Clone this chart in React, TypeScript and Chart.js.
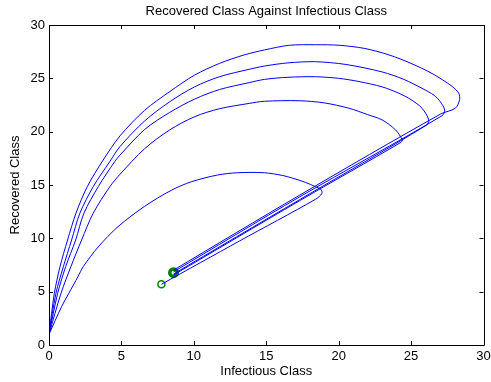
import React, { useEffect, useRef } from "react";
import { Chart, registerables } from "chart.js";

Chart.register(...registerables);

const titleText = "Recovered Class Against Infectious Class";
const xAxisLabel = "Infectious Class";
const yAxisLabel = "Recovered Class";
const tickValues = [0, 5, 10, 15, 20, 25, 30];

const curveAX = [0, 0.37, 0.76, 1.28, 1.86, 2.64, 3.74, 4.9, 6.6, 8.33, 10.05, 11.77, 13.49, 14.87, 16.6, 18.4, 20.03, 21.8, 23.47, 25.0, 26.45, 27.83, 28.29, 28.35, 28.06, 27.03, 17.27, 8.6];
const curveAY = [1.0, 4.85, 7.34, 9.84, 12.35, 14.84, 17.34, 19.6, 22.0, 23.75, 25.3, 26.4, 27.2, 27.66, 28.1, 28.15, 28.1, 27.8, 27.2, 26.4, 25.45, 24.25, 23.6, 23.0, 22.2, 21.65, 14.02, 7.02];

const curveBX = [0, 0.48, 0.99, 1.56, 2.13, 3.05, 4.2, 4.9, 6.6, 8.33, 10.05, 11.77, 13.83, 14.87, 16.5, 18.4, 20.5, 23.0, 24.5, 25.76, 26.6, 27.02, 27.32, 27.14, 17.27, 8.6];
const curveBY = [1.0, 4.85, 7.34, 9.84, 12.35, 14.84, 17.2, 18.6, 21.0, 22.8, 24.2, 25.15, 25.85, 26.15, 26.45, 26.56, 26.3, 25.6, 24.9, 24.06, 23.4, 22.8, 22.03, 21.5, 13.86, 6.86];

const curveCX = [0, 0.6, 1.15, 1.84, 2.41, 3.4, 4.54, 4.9, 6.6, 8.33, 10.05, 11.77, 13.83, 14.87, 16.5, 18.4, 20.0, 21.4, 23.0, 24.16, 25.0, 25.76, 26.22, 26.05, 17.27, 8.6];
const curveCY = [1.0, 4.85, 7.34, 9.84, 12.35, 14.84, 17.2, 17.8, 20.2, 21.8, 23.05, 23.95, 24.6, 24.9, 25.1, 25.15, 25.0, 24.7, 24.2, 23.6, 23.0, 22.19, 21.1, 20.6, 13.6, 6.66];

const curveDX = [0, 0.83, 1.51, 2.25, 3.05, 4.2, 4.9, 6.6, 8.33, 10.05, 11.77, 13.83, 14.87, 17.27, 19.0, 20.7, 22.0, 23.0, 23.93, 24.39, 24.3, 17.27, 8.6];
const curveDY = [1.0, 4.85, 7.34, 9.84, 12.35, 14.84, 16.0, 18.4, 20.16, 21.4, 22.15, 22.65, 22.85, 22.9, 22.7, 22.2, 21.6, 21.1, 20.16, 19.22, 19.0, 13.5, 6.56];

const curveEX = [0, 0.87, 1.37, 2.0, 2.36, 3.4, 4.77, 6.6, 8.44, 9.82, 11.65, 13.03, 14.87, 16.1, 16.8, 17.7, 18.4, 18.77, 18.84, 18.4, 13.15, 7.76];
const curveEY = [1.0, 3.6, 4.85, 6.4, 7.34, 9.2, 11.1, 13.0, 14.5, 15.3, 15.94, 16.15, 16.15, 15.9, 15.65, 15.25, 14.84, 14.6, 14.2, 13.66, 9.75, 5.69];

const openMarkerX = [7.76];
const openMarkerY = [5.69];
const endMarkerX = [8.6];
const endMarkerY = [6.78];

const FONT = '"Liberation Sans", Arial, Helvetica, sans-serif';

const toPoints = (xs: number[], ys: number[]) => xs.map((x, i) => ({ x, y: ys[i] }));

const framePlugin = {
  id: "matlabFrame",
  afterDraw(chart: any) {
    const { ctx, chartArea } = chart;
    const { left, right, top, bottom } = chartArea;
    const xs = chart.scales.x;
    const ys = chart.scales.y;
    ctx.save();
    ctx.strokeStyle = "#000";
    ctx.lineWidth = 1;
    ctx.beginPath();
    ctx.rect(Math.round(left) + 0.5, Math.round(top) + 0.5, Math.round(right - left), Math.round(bottom - top));
    ctx.stroke();
    const tl = 4;
    ctx.beginPath();
    tickValues.forEach((v) => {
      const px = Math.round(xs.getPixelForValue(v)) + 0.5;
      ctx.moveTo(px, bottom);
      ctx.lineTo(px, bottom - tl);
      ctx.moveTo(px, top);
      ctx.lineTo(px, top + tl);
      const py = Math.round(ys.getPixelForValue(v)) + 0.5;
      ctx.moveTo(left, py);
      ctx.lineTo(left + tl, py);
      ctx.moveTo(right, py);
      ctx.lineTo(right - tl, py);
    });
    ctx.stroke();
    ctx.fillStyle = "#000";
    ctx.font = `13px ${FONT}`;
    ctx.textAlign = "center";
    ctx.textBaseline = "middle";
    ctx.fillText(titleText, (left + right) / 2, 11);
    ctx.restore();
  },
};

export default function App() {
  const canvasRef = useRef<HTMLCanvasElement | null>(null);

  useEffect(() => {
    if (!canvasRef.current) return;
    const lineStyle = {
      borderColor: "#0000ff",
      borderWidth: 1,
      pointRadius: 0,
      fill: false,
      tension: 0.3,
    };
    const chart = new Chart(canvasRef.current, {
      type: "line",
      data: {
        datasets: [
          { ...lineStyle, data: toPoints(curveAX, curveAY) },
          { ...lineStyle, data: toPoints(curveBX, curveBY) },
          { ...lineStyle, data: toPoints(curveCX, curveCY) },
          { ...lineStyle, data: toPoints(curveDX, curveDY) },
          { ...lineStyle, data: toPoints(curveEX, curveEY) },
          {
            data: toPoints(openMarkerX, openMarkerY),
            showLine: false,
            pointRadius: 3.5,
            pointBorderWidth: 1.5,
            pointBorderColor: "#008000",
            pointBackgroundColor: "rgba(0,0,0,0)",
          },
          {
            data: toPoints(endMarkerX, endMarkerY),
            showLine: false,
            pointRadius: 3.8,
            pointBorderWidth: 3.5,
            pointBorderColor: "#008000",
            pointBackgroundColor: "rgba(0,0,0,0)",
          },
        ],
      },
      options: {
        animation: false,
        responsive: false,
        layout: { padding: { left: 0, right: 6, top: 25, bottom: 0 } },
        plugins: {
          legend: { display: false },
          tooltip: { enabled: false },
          title: { display: false },
        },
        scales: {
          x: {
            type: "linear",
            min: 0,
            max: 30,
            afterBuildTicks: (s: any) => {
              s.ticks = tickValues.map((v) => ({ value: v }));
            },
            grid: { display: false, drawTicks: false },
            border: { display: false },
            ticks: { padding: 4, color: "#000", font: { family: FONT, size: 13 }, maxRotation: 0, autoSkip: false },
            title: { display: true, text: xAxisLabel, color: "#000", font: { family: FONT, size: 13 }, padding: { top: 0, bottom: 2.5 } },
            afterFit: (s: any) => {
              s.height = 37;
              s.paddingLeft = 0;
              s.paddingRight = 0;
            },
          },
          y: {
            type: "linear",
            min: 0,
            max: 30,
            afterBuildTicks: (s: any) => {
              s.ticks = tickValues.map((v) => ({ value: v }));
            },
            grid: { display: false, drawTicks: false },
            border: { display: false },
            ticks: { padding: 4, color: "#000", font: { family: FONT, size: 13 }, autoSkip: false },
            title: { display: true, text: yAxisLabel, color: "#000", font: { family: FONT, size: 13 }, padding: { top: 8, bottom: 0 } },
            afterFit: (s: any) => {
              s.width = 49;
              s.paddingTop = 0;
              s.paddingBottom = 0;
            },
          },
        },
      },
      plugins: [framePlugin],
    } as any);
    return () => chart.destroy();
  }, []);

  return (
    <div style={{ position: "absolute", left: 0, top: 0, width: 491, height: 382, background: "#fff" }}>
      <canvas ref={canvasRef} width={491} height={382} style={{ display: "block" }} />
    </div>
  );
}
